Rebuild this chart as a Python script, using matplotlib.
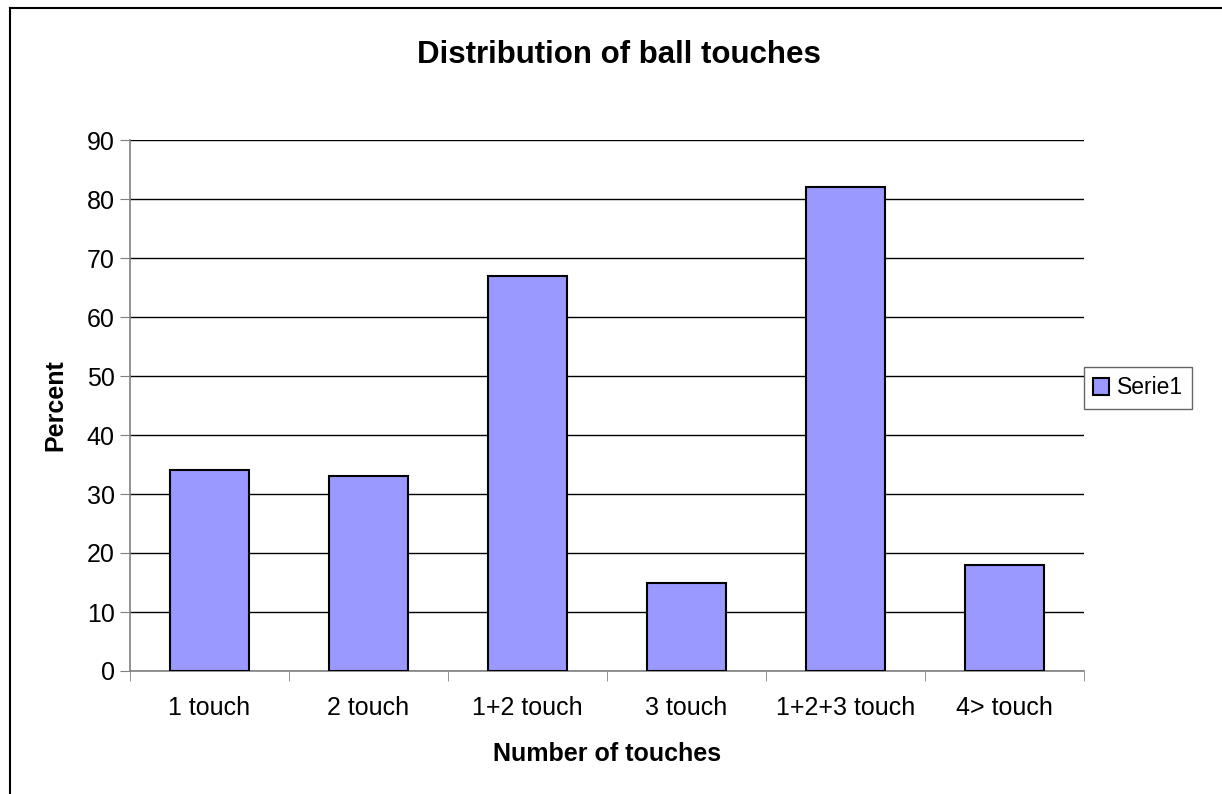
import matplotlib
matplotlib.use("Agg")
import matplotlib.pyplot as plt
from matplotlib.lines import Line2D

categories = ["1 touch", "2 touch", "1+2 touch", "3 touch", "1+2+3 touch", "4> touch"]
values = [34, 33, 67, 15, 82, 18]
yticks = [0, 10, 20, 30, 40, 50, 60, 70, 80, 90]

plt.rcParams['font.family'] = ['Liberation Sans', 'DejaVu Sans']

W, H = 1222, 794
fig = plt.figure(figsize=(W / 100, H / 100), dpi=100)

# outer chart border (only left and top edges visible in the reference)
fig.lines.append(Line2D([10 / W, 10 / W], [0, 1 - 8 / H], transform=fig.transFigure,
                        color='black', linewidth=1.5))
fig.lines.append(Line2D([10 / W, 1], [1 - 8 / H, 1 - 8 / H], transform=fig.transFigure,
                        color='black', linewidth=1.5))

left, right, top, bottom = 130, 1084, 140, 671
ax = fig.add_axes([left / W, 1 - bottom / H, (right - left) / W, (bottom - top) / H])

x = list(range(len(categories)))
ax.bar(x, values, width=0.5, color='#9999FF', edgecolor='black', linewidth=1.5,
       label='Serie1', zorder=3)

ax.set_xlim(-0.5, len(categories) - 0.5)
ax.set_ylim(0, 90)
ax.set_yticks(yticks)
ax.set_yticklabels([str(v) for v in yticks], fontsize=18)
ax.set_xticks(x)
ax.set_xticklabels(categories, fontsize=18)
ax.tick_params(axis='x', length=0, pad=18)
ax.set_xticks([i - 0.5 for i in range(len(categories) + 1)], minor=True)
ax.tick_params(axis='x', which='minor', length=7, color='#808080', direction='out')
ax.tick_params(axis='y', length=7, color='#808080', direction='out', pad=4)

ax.yaxis.grid(True, color='black', linewidth=1.0, zorder=0)
ax.set_axisbelow(True)
for s in ['top', 'right']:
    ax.spines[s].set_visible(False)
ax.spines['left'].set_color('#808080')
ax.spines['bottom'].set_color('#808080')
ax.spines['left'].set_linewidth(1.2)
ax.spines['bottom'].set_linewidth(1.2)

ax.set_ylabel('Percent', fontsize=18, fontweight='bold', labelpad=14)
ax.set_xlabel('Number of touches', fontsize=18, fontweight='bold', labelpad=16)
fig.text(619 / W, 1 - 55 / H, 'Distribution of ball touches', ha='center', va='center',
         fontsize=22.5, fontweight='bold')

leg = fig.legend(loc='center', bbox_to_anchor=(1138 / W, 1 - 388 / H), fontsize=16.5,
                 frameon=True, fancybox=False, edgecolor='#404040', handlelength=0.7,
                 handleheight=0.7, handletextpad=0.35, borderpad=0.4, borderaxespad=0)
leg.get_frame().set_linewidth(1.0)

fig.savefig('out.png', dpi=100)
